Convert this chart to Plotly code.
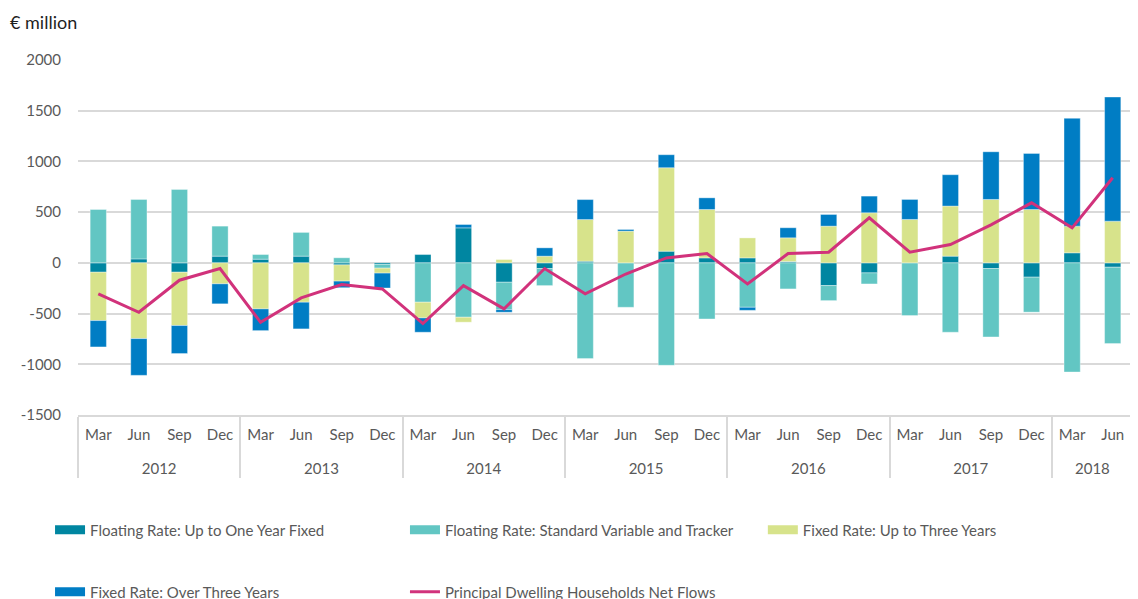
import plotly.graph_objects as go

years = ["2012"] * 4 + ["2013"] * 4 + ["2014"] * 4 + ["2015"] * 4 + ["2016"] * 4 + ["2017"] * 4 + ["2018"] * 2
months = ["Mar", "Jun", "Sep", "Dec"] * 6 + ["Mar", "Jun"]

# € million, per quarter
float_1yr = [-92, 39, -92, 66, 36, 66, -20, -15,
             82, 345, -191, -56, 16, 0, 115, 49,
             49, 13, -224, -99, 0, 66, -56, -141,
             99, -43]
float_svr = [526, 586, 724, 296, 46, 234, 50, -37,
             -388, -536, -270, -168, -944, -438, -1010, -553,
             -438, -257, -148, -109, -520, -684, -674, -345,
             -1076, -753]
fixed_3yr = [-477, -747, -526, -207, -454, -388, -160, -49,
             -155, -49, 33, 66, 411, 313, 823, 477,
             197, 234, 362, 494, 428, 494, 625, 526,
             263, 411]
fixed_over3 = [-260, -362, -276, -197, -214, -263, -65, -147,
               -141, 33, -26, 82, 197, 16, 128, 115,
               -30, 99, 115, 164, 197, 309, 470, 553,
               1063, 1224]
net_flows = [-306, -487, -171, -56, -586, -345, -214, -257,
             -599, -224, -454, -56, -306, -110, 49, 92,
             -207, 92, 105, 444, 105, 181, 375, 592,
             345, 839]

y_ticks = [-1500, -1000, -500, 0, 500, 1000, 1500, 2000]

# year labels get an empty first line so they sit lower, as in the original
x = [["<br>" + y for y in years], months]
grey = "#595959"
grid = "#d9d9d9"

fig = go.Figure()
bar_series = [
    ("Floating Rate: Up to One Year Fixed", float_1yr, "#0086a1"),
    ("Floating Rate: Standard Variable and Tracker", float_svr, "#62c6c3"),
    ("Fixed Rate: Up to Three Years", fixed_3yr, "#d7e38b"),
    ("Fixed Rate: Over Three Years", fixed_over3, "#007dc4"),
]
for name, vals, col in bar_series:
    fig.add_trace(go.Bar(x=x, y=vals, name=name, marker_color=col,
                         marker_line=dict(color="rgba(255,255,255,0.6)", width=0.6),
                         showlegend=False))

line_name = "Principal Dwelling Households Net Flows"
fig.add_trace(go.Scatter(x=x, y=net_flows, mode="lines", name=line_name,
                         line=dict(color="#d1327b", width=3), showlegend=False))

# legend entries: wide flat swatches like the original, one legend box each
legend_ids = ["legend", "legend2", "legend3", "legend4", "legend5"]
entries = [(n, c, 9) for n, _, c in bar_series] + [(line_name, "#d1327b", 3)]
for (name, col, w), leg in zip(entries, legend_ids):
    fig.add_trace(go.Scatter(x=[[x[0][0]], [x[1][0]]], y=[None], mode="lines", name=name,
                             line=dict(color=col, width=w), legend=leg, hoverinfo="skip"))

legend_style = dict(orientation="h", xanchor="left", yanchor="middle",
                    xref="container", yref="container",
                    font=dict(family="Lato", size=15, color=grey), bgcolor="rgba(0,0,0,0)",
                    itemwidth=30)
legend_pos = [(0.0372, 0.1168), (0.3513, 0.1168), (0.668, 0.1168),
              (0.0372, 0.0118), (0.3513, 0.0118)]

# body margin of the page is 8px, so figure is 8px smaller and margins shifted
fig.update_layout(
    width=1130, height=591,
    margin=dict(l=70, r=5, t=52, b=184),
    plot_bgcolor="white", paper_bgcolor="white",
    barmode="relative", bargap=0.6,
    font=dict(family="Lato", size=15, color=grey),
    annotations=[dict(text="€ million", xref="paper", yref="paper", x=-0.0664, y=1.107,
                      xanchor="left", yanchor="middle", showarrow=False,
                      font=dict(family="Lato", size=18, color="#1f1f1f"))],
)
for leg, (lx, ly) in zip(legend_ids, legend_pos):
    fig.update_layout({leg: dict(x=lx, y=ly, **legend_style)})

fig.update_yaxes(range=[-1500, 2000], tickvals=y_ticks, ticktext=[str(v) for v in y_ticks],
                 showgrid=True, gridcolor=grid, gridwidth=1.5, automargin=False,
                 zeroline=False, ticklabelstandoff=16, tickfont=dict(size=15, color=grey))
fig.update_xaxes(showline=True, linecolor=grid, linewidth=1.5, showdividers=True, automargin=False,
                 dividercolor=grid, dividerwidth=1.5, ticklabelstandoff=5,
                 tickfont=dict(size=15, color=grey))

fig.write_html("out.html")
